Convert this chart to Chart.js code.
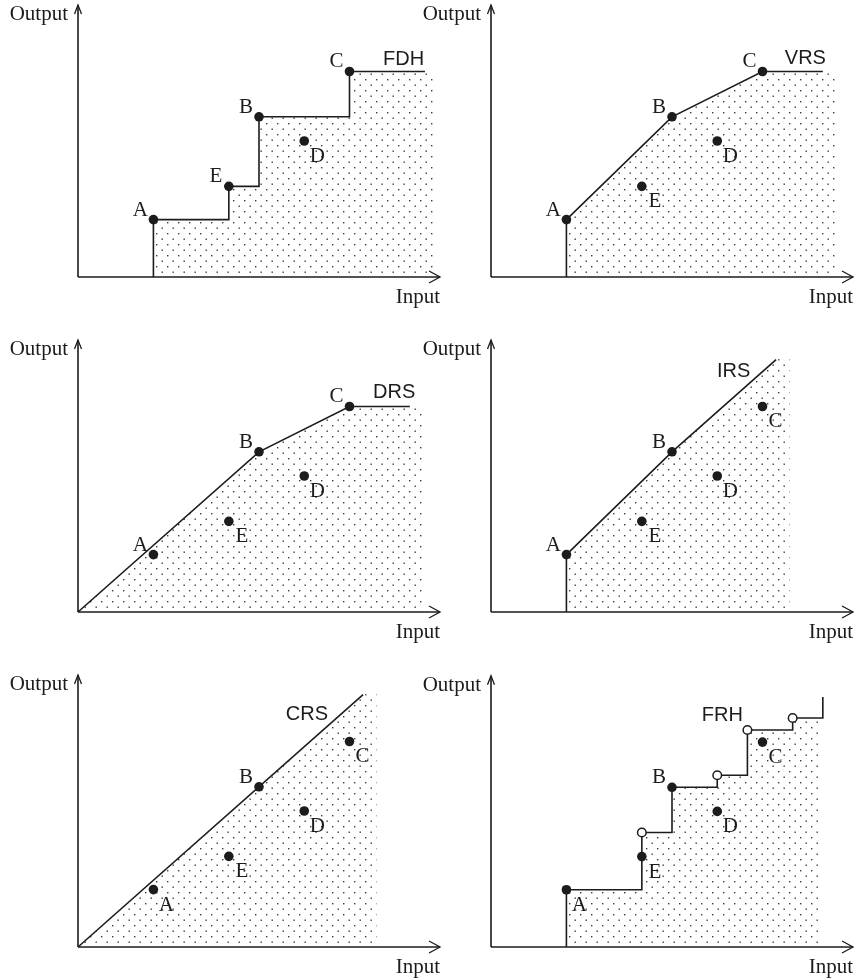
<!DOCTYPE html>
<html>
<head>
<meta charset="utf-8">
<script src="https://cdn.jsdelivr.net/npm/chart.js@4/dist/chart.umd.min.js"></script>
<style>
  html, body { margin: 0; padding: 0; background: #fff; }
  body { width: 861px; height: 980px; position: relative; overflow: hidden; }
  canvas { position: absolute; }
</style>
</head>
<body>
<canvas id="p0" width="445" height="310" style="left:0;top:0"></canvas>
<canvas id="p1" width="448" height="310" style="left:413px;top:0"></canvas>
<canvas id="p2" width="445" height="310" style="left:0;top:335px"></canvas>
<canvas id="p3" width="448" height="310" style="left:413px;top:335px"></canvas>
<canvas id="p4" width="445" height="310" style="left:0;top:670px"></canvas>
<canvas id="p5" width="448" height="310" style="left:413px;top:670px"></canvas>
<script>
// Observed production units (input, output)
const unitNames  = ['A', 'B', 'C', 'D', 'E'];
const unitInput  = [2.5, 6.0, 9.0, 7.5, 5.0];
const unitOutput = [1.9, 5.3, 6.8, 4.5, 3.0];

// Technology drawn in each panel
const technologies = ['FDH', 'VRS', 'DRS', 'IRS', 'CRS', 'FRH'];

// Input level where each frontier line stops, and where its shaded set stops
const frontierEnd = [11.5, 11.0, 11.0, 9.45, 9.45, 11.0];
const shadeEnd    = [11.85, 11.45, 11.5, 9.9, 9.9, 10.95];

// Replicated combinations of units used by the FRH frontier
const frhCombos = [['A', 'A'], ['A', 'A', 'A'], ['A', 'B'], ['A', 'A', 'A', 'A'], ['E', 'B']];

// Axis extents
const inputMax = 12;
const outputMax = 9;

// ---- layout / styling ----
const ink = '#1c1c1c';
const serif = '"Liberation Serif", "Times New Roman", serif';
const sans = '"Liberation Sans", Arial, sans-serif';

// which side of each point its letter sits: 'ul' = upper left, 'lr' = lower right
const labelSide = [
  { A: 'ul', B: 'ul', C: 'ul', D: 'lr', E: 'ul' },
  { A: 'ul', B: 'ul', C: 'ul', D: 'lr', E: 'lr' },
  { A: 'ul', B: 'ul', C: 'ul', D: 'lr', E: 'lr' },
  { A: 'ul', B: 'ul', C: 'lr', D: 'lr', E: 'lr' },
  { A: 'lr', B: 'ul', C: 'lr', D: 'lr', E: 'lr' },
  { A: 'lr', B: 'ul', C: 'lr', D: 'lr', E: 'lr' }
];
// left/baseline anchor of the technology name, in axis units
const tagAt = [[10.11, 7.02], [9.74, 7.05], [9.78, 7.08], [7.49, 7.78], [6.89, 7.51], [6.99, 7.51]];

const unit = {};
unitNames.forEach((n, k) => { unit[n] = { x: unitInput[k], y: unitOutput[k] }; });

const replicas = frhCombos.map(c => c.reduce((s, n) => ({ x: s.x + unit[n].x, y: s.y + unit[n].y }), { x: 0, y: 0 }));

function frontier(i) {
  const A = unit.A, B = unit.B, C = unit.C, E = unit.E;
  const end = frontierEnd[i];
  const ray = B.y / B.x;
  switch (technologies[i]) {
    case 'FDH':
      return [{ x: A.x, y: 0 }, A, { x: E.x, y: A.y }, E, { x: B.x, y: E.y }, B, { x: C.x, y: B.y }, C, { x: end, y: C.y }];
    case 'VRS':
      return [{ x: A.x, y: 0 }, A, B, C, { x: end, y: C.y }];
    case 'DRS':
      return [{ x: 0, y: 0 }, B, C, { x: end, y: C.y }];
    case 'IRS':
      return [{ x: A.x, y: 0 }, A, B, { x: end, y: end * ray }];
    case 'CRS':
      return [{ x: 0, y: 0 }, { x: end, y: end * ray }];
    case 'FRH': {
      const pts = [{ x: A.x, y: 0 }, A];
      let prev = A;
      const steps = [replicas[0], B, replicas[1], replicas[2], replicas[3], replicas[4]];
      steps.forEach(p => { pts.push({ x: p.x, y: prev.y }, p); prev = p; });
      return pts;
    }
  }
}

function shade(i) {
  const f = frontier(i);
  const name = technologies[i];
  const se = shadeEnd[i];
  let pts;
  if (name === 'FRH') {
    pts = f.slice(0, f.length - 2);
    const top = pts[pts.length - 1].y;
    pts.push({ x: se, y: top });
  } else if (name === 'IRS' || name === 'CRS') {
    pts = f.slice();
    pts.push({ x: se, y: f[f.length - 1].y + 0.1 });
  } else {
    pts = f.slice();
    pts.push({ x: se, y: f[f.length - 1].y });
  }
  pts.push({ x: se, y: 0 });
  return pts;
}

// dotted fill
const tile = document.createElement('canvas');
tile.width = 11; tile.height = 11;
const tc = tile.getContext('2d');
tc.fillStyle = '#3c3c3c';
tc.fillRect(2, 2, 1.4, 1.4);
tc.fillRect(7.5, 7.5, 1.4, 1.4);
const dotPattern = tc.createPattern(tile, 'repeat');

const annotate = {
  id: 'annotate',
  beforeDatasetsDraw(chart, args, opts) {
    const ctx = chart.ctx;
    const a = chart.chartArea;
    ctx.save();
    ctx.strokeStyle = ink;
    ctx.lineWidth = 1.6;
    ctx.lineCap = 'butt';
    ctx.beginPath();
    ctx.moveTo(a.left, a.bottom); ctx.lineTo(a.right, a.bottom);
    ctx.moveTo(a.left, a.bottom); ctx.lineTo(a.left, a.top);
    ctx.stroke();
    ctx.lineWidth = 1.3;
    ctx.beginPath();
    ctx.moveTo(a.right - 11, a.bottom - 6); ctx.lineTo(a.right, a.bottom); ctx.lineTo(a.right - 11, a.bottom + 6);
    ctx.moveTo(a.left - 3.5, a.top + 9); ctx.lineTo(a.left, a.top); ctx.lineTo(a.left + 3.5, a.top + 9);
    ctx.stroke();
    ctx.fillStyle = ink;
    ctx.font = '21px ' + serif;
    ctx.textBaseline = 'alphabetic';
    ctx.textAlign = 'right';
    ctx.fillText('Output', a.left - 10, a.top + 15);
    ctx.fillText('Input', a.right, a.bottom + 26);
    ctx.restore();
  },
  afterDatasetsDraw(chart, args, opts) {
    const i = opts.panel;
    const ctx = chart.ctx;
    const xs = chart.scales.x, ys = chart.scales.y;
    ctx.save();
    ctx.fillStyle = ink;
    ctx.font = '21px ' + serif;
    ctx.textAlign = 'center';
    ctx.textBaseline = 'alphabetic';
    unitNames.forEach((n, k) => {
      const px = xs.getPixelForValue(unitInput[k]);
      const py = ys.getPixelForValue(unitOutput[k]);
      if (labelSide[i][n] === 'ul') ctx.fillText(n, px - 13, py - 4);
      else ctx.fillText(n, px + 13, py + 21);
    });
    ctx.font = '20px ' + sans;
    ctx.textAlign = 'left';
    ctx.fillText(technologies[i], xs.getPixelForValue(tagAt[i][0]), ys.getPixelForValue(tagAt[i][1]));
    ctx.restore();
  }
};

function makeChart(i) {
  const canvas = document.getElementById('p' + i);
  const right = i % 2 === 0 ? 5 : 8;
  const datasets = [
    {
      data: shade(i), showLine: true, fill: 'origin', backgroundColor: dotPattern,
      borderColor: 'rgba(0,0,0,0)', borderWidth: 0, pointRadius: 0, tension: 0, order: 3, clip: false
    },
    {
      data: frontier(i), showLine: true, fill: false, borderColor: ink, borderWidth: 1.6,
      pointRadius: 0, tension: 0, order: 2, clip: false
    },
    {
      data: unitNames.map((n, k) => ({ x: unitInput[k], y: unitOutput[k] })), showLine: false,
      pointRadius: 4.8, pointBackgroundColor: ink, pointBorderColor: ink, pointBorderWidth: 0, order: 1, clip: false
    }
  ];
  if (technologies[i] === 'FRH') {
    datasets.push({
      data: replicas.slice(0, 4), showLine: false, pointRadius: 4.3, pointBackgroundColor: '#fff',
      pointBorderColor: ink, pointBorderWidth: 1.5, order: 0, clip: false
    });
  }
  return new Chart(canvas, {
    type: 'scatter',
    data: { datasets },
    options: {
      responsive: false,
      animation: false,
      devicePixelRatio: 1,
      events: [],
      layout: { padding: { left: 78, top: 5, right: right, bottom: 33 } },
      scales: {
        x: { type: 'linear', min: 0, max: inputMax, display: false },
        y: { type: 'linear', min: 0, max: outputMax, display: false }
      },
      plugins: {
        legend: { display: false },
        tooltip: { enabled: false },
        annotate: { panel: i }
      }
    },
    plugins: [annotate]
  });
}

technologies.forEach((t, i) => makeChart(i));
</script>
</body>
</html>
